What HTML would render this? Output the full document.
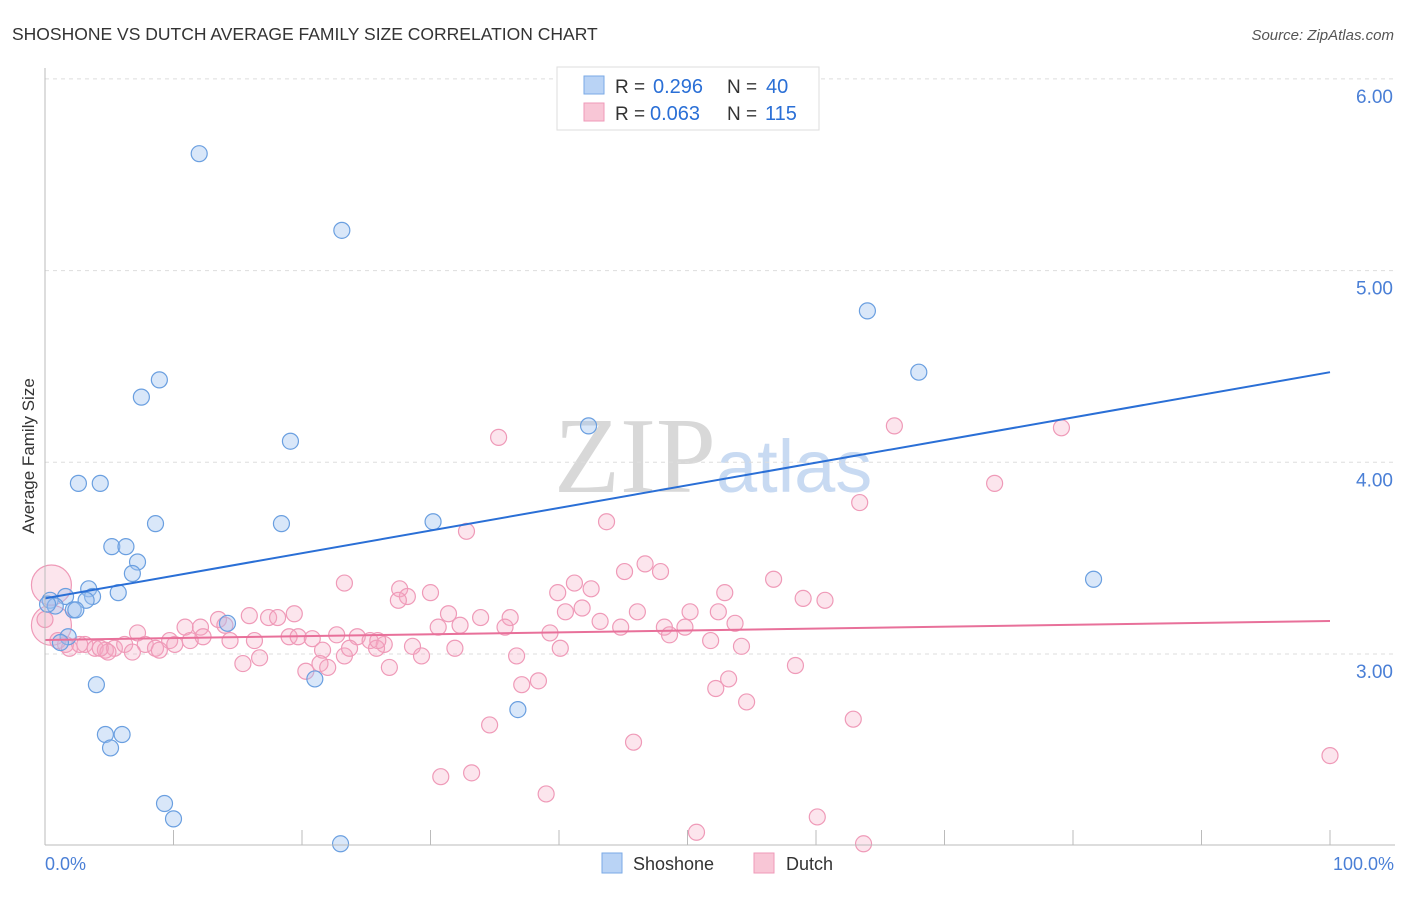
<!DOCTYPE html>
<html><head><meta charset="utf-8"><style>
body{margin:0;background:#fff;font-family:"Liberation Sans",sans-serif}
</style></head><body>
<svg id="chart" width="1406" height="892" xmlns="http://www.w3.org/2000/svg" font-family="Liberation Sans, sans-serif">
<text x="12" y="40" font-size="17.5" fill="#333">SHOSHONE VS DUTCH AVERAGE FAMILY SIZE CORRELATION CHART</text>
<text x="1394" y="40" font-size="15" fill="#555" text-anchor="end" font-style="italic">Source: ZipAtlas.com</text>
<text x="716" y="492" font-size="108" text-anchor="end" font-family="Liberation Serif, serif" fill="#d8d8d8">ZIP</text>
<text x="716" y="492" font-size="74" fill="#c8daf2">atlas</text>
<text transform="translate(34,456) rotate(-90)" font-size="17" fill="#333" text-anchor="middle">Average Family Size</text>
<g id="grid"></g><g id="pts"></g><g id="lines"></g>
<line x1="45" y1="68" x2="45" y2="845" stroke="#bbb"/>
<line x1="45" y1="845" x2="1395" y2="845" stroke="#bbb"/>
<text x="45" y="870" font-size="18" fill="#4a7fd6">0.0%</text>
<text x="1394" y="870" font-size="18" fill="#4a7fd6" text-anchor="end">100.0%</text>
<g font-size="19" fill="#333">
<rect x="557" y="67" width="262" height="63" fill="#fff" stroke="#ddd"/>
<rect x="584" y="76" width="20" height="18" fill="#b9d3f5" stroke="#7aaae6"/>
<rect x="584" y="103" width="20" height="18" fill="#f8c6d6" stroke="#ef9ab8"/>
<text x="615" y="93">R =</text><text x="653" y="93" fill="#2a6fd6" font-size="20">0.296</text>
<text x="727" y="93">N =</text><text x="766" y="93" fill="#2a6fd6" font-size="20">40</text>
<text x="615" y="120">R =</text><text x="650" y="120" fill="#2a6fd6" font-size="20">0.063</text>
<text x="727" y="120">N =</text><text x="765" y="120" fill="#2a6fd6" font-size="20">115</text>
</g>
<g>
<rect x="602" y="853" width="20" height="20" fill="#b9d3f5" stroke="#7aaae6"/>
<text x="633" y="870" font-size="18" fill="#333">Shoshone</text>
<rect x="754" y="853" width="20" height="20" fill="#f8c6d6" stroke="#ef9ab8"/>
<text x="786" y="870" font-size="18" fill="#333">Dutch</text>
</g>
</svg>
<script>
const yTicks=[3,4,5,6];
const yTickLabels=["3.00","4.00","5.00","6.00"];
const xTickValues=[0,10,20,30,40,50,60,70,80,90,100];
const shoX=[12.0,23.1,64.0,68.0,8.9,7.5,19.1,42.3,2.6,4.3,30.2,8.6,18.4,5.2,6.3,7.2,6.8,3.4,5.7,0.4,1.6,3.7,3.2,0.8,2.2,2.4,0.2,1.8,1.2,14.2,4.0,21.0,4.7,6.0,5.1,36.8,9.3,10.0,23.0,81.6];
const shoY=[5.61,5.21,4.79,4.47,4.43,4.34,4.11,4.19,3.89,3.89,3.69,3.68,3.68,3.56,3.56,3.48,3.42,3.34,3.32,3.28,3.30,3.30,3.28,3.25,3.23,3.23,3.26,3.09,3.06,3.16,2.84,2.87,2.58,2.58,2.51,2.71,2.22,2.14,2.01,3.39];
const dutX=[35.3,66.1,79.1,73.9,63.4,43.7,32.8,46.7,45.1,47.9,56.7,23.3,27.6,41.2,42.5,39.9,30.0,28.2,27.5,52.9,59.0,60.7,41.8,40.5,15.9,19.4,17.4,18.1,13.5,14.0,36.2,33.9,31.4,32.3,46.1,50.2,52.4,53.7,43.2,44.8,48.2,49.8,48.6,35.8,30.6,10.9,7.2,9.7,12.1,12.3,11.3,14.4,16.3,19.0,19.7,20.8,22.7,24.3,25.3,26.4,25.8,25.9,28.6,29.3,31.9,39.3,40.1,51.8,54.2,1.6,1.9,3.1,3.9,4.7,5.4,6.2,7.8,8.6,8.9,10.1,6.8,4.9,16.7,15.4,21.6,23.3,23.7,21.4,22.0,20.3,26.8,36.7,58.4,53.2,52.2,38.4,37.1,54.6,62.9,34.6,45.8,30.8,33.2,39.0,50.7,60.1,63.7,100,0.5,0.5,1.0,2.7,4.3,0];
const dutY=[4.13,4.19,4.18,3.89,3.79,3.69,3.64,3.47,3.43,3.43,3.39,3.37,3.34,3.37,3.34,3.32,3.32,3.30,3.28,3.32,3.29,3.28,3.24,3.22,3.20,3.21,3.19,3.19,3.18,3.15,3.19,3.19,3.21,3.15,3.22,3.22,3.22,3.16,3.17,3.14,3.14,3.14,3.10,3.14,3.14,3.14,3.11,3.07,3.14,3.09,3.07,3.07,3.07,3.09,3.09,3.08,3.10,3.09,3.07,3.05,3.03,3.07,3.04,2.99,3.03,3.11,3.03,3.07,3.04,3.05,3.03,3.05,3.03,3.02,3.03,3.05,3.05,3.03,3.02,3.05,3.01,3.01,2.98,2.95,3.02,2.99,3.03,2.95,2.93,2.91,2.93,2.99,2.94,2.87,2.82,2.86,2.84,2.75,2.66,2.63,2.54,2.36,2.38,2.27,2.07,2.15,2.01,2.47,3.36,3.15,3.07,3.05,3.03,3.18];
const dutBig=[108,109];
const shoLine=[3.29,4.47];
const dutLine=[3.073,3.172];
const NS="http://www.w3.org/2000/svg";
const X=v=>45+v*12.85, Y=v=>654-(v-3)*191.7;
function mk(t,a,p){const e=document.createElementNS(NS,t);for(const k in a)e.setAttribute(k,a[k]);p.appendChild(e);return e;}
const grid=document.getElementById('grid'),pts=document.getElementById('pts'),lines=document.getElementById('lines');
yTicks.forEach((t,i)=>{
 const l=mk('line',{x1:45,x2:1395,y1:Y(t),y2:Y(t),stroke:'#ddd','stroke-dasharray':'4,4'},grid);
 
 
 const tx=mk('text',{x:1393,y:Y(t)+24,'font-size':19,fill:'#4a7fd6','text-anchor':'end'},grid);
 tx.textContent=yTickLabels[i];
 
 
});
xTickValues.forEach(v=>{
 const l=mk('line',{x1:X(v),x2:X(v),y1:830,y2:845,stroke:'#bbb'},grid);
 
 
});
dutX.forEach((x,i)=>{
 const c=mk('circle',{cx:X(x),cy:Y(dutY[i]),r:dutBig.includes(i)?20:8,fill:'rgba(245,170,195,0.3)',stroke:'#ef9ab8','stroke-width':1.2},pts);
 
 
});
shoX.forEach((x,i)=>{
 const c=mk('circle',{cx:X(x),cy:Y(shoY[i]),r:8,fill:'rgba(160,196,240,0.4)',stroke:'#6a9fe0','stroke-width':1.2},pts);
 
 
});
const l1=mk('line',{x1:X(0),y1:Y(shoLine[0]),x2:X(100),y2:Y(shoLine[1]),stroke:'#2a6fd6','stroke-width':2},lines);


const l2=mk('line',{x1:X(0),y1:Y(dutLine[0]),x2:X(100),y2:Y(dutLine[1]),stroke:'#e8709a','stroke-width':2},lines);


</script>
</body></html>
